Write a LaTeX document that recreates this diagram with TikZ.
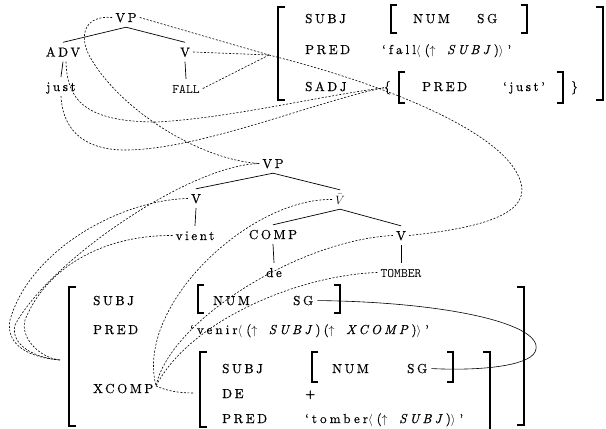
\documentclass[tikz,border=0pt]{standalone}
\usepackage{fontspec}
\setmainfont{lmroman10-regular.otf}[ItalicFont=lmroman10-italic.otf, BoldFont=lmroman10-bold.otf, LetterSpace=20, FakeBold=0.5]
\newfontfamily\valfont{lmroman10-regular.otf}[ItalicFont=lmroman10-italic.otf, LetterSpace=24, FakeBold=0.5]
\setmonofont{lmmono10-regular.otf}
% math glyphs inside a value, with room after them
\newcommand{\la}{$\langle$\kern4pt}
\newcommand{\ra}{$\rangle$\kern4pt}
\newcommand{\up}{$\uparrow$\kern4pt}
\begin{document}
\begin{tikzpicture}[x=1pt, y=-1pt,
  every node/.style={font=\fontsize{13}{15}\selectfont},
  tn/.style={anchor=base, inner xsep=3pt, inner ysep=5pt, text height=9pt, text depth=0pt},
  ft/.style={anchor=base west, inner sep=0pt},
  val/.style={ft, font=\fontsize{13}{15}\selectfont\valfont},
  treeline/.style={line width=0.7pt},
  corrline/.style={dash pattern=on 2pt off 1.6pt, line width=0.6pt},
  bigbrk/.style={line width=1.6pt},
  smallbrk/.style={line width=1.2pt},
  link/.style={line width=0.6pt}]
\useasboundingbox (0,0) rectangle (606,429);

% ---------- English c-structure ----------
\node[tn] (vpA) at (126,22) {VP};
\node[tn] (advA) at (63,56.5) {ADV};
\node[tn] (vA) at (185,56.5) {V};
\node[tn] (justA) at (61,91) {just};
\node[tn, font=\fontsize{13}{15}\selectfont\ttfamily] (fallA) at (186,93) {FALL};
\draw[treeline] (vpA.south) -- (advA.north);
\draw[treeline] (vpA.south) -- (vA.north);
\draw[treeline] (advA.south) -- (justA.north);
\draw[treeline] (vA.south) -- (fallA.north);

% ---------- English f-structure ----------
\draw[bigbrk] (285,7) -- (278,7) -- (278,100) -- (285,100);
\draw[bigbrk] (596,7) -- (603,7) -- (603,100) -- (596,100);
\node[ft] (subj1) at (305,23) {SUBJ};
\draw[smallbrk] (397,5) -- (391,5) -- (391,33) -- (397,33);
\node[ft] (num1) at (413,23) {NUM};
\node[ft] (sg1) at (477,23) {SG};
\draw[smallbrk] (521,5) -- (527,5) -- (527,33) -- (521,33);
\node[ft] (pred1) at (305,54) {PRED};
\node[val] (val1) at (382,54) {‘fall\la(\up\ \textit{SUBJ})\ra’};
\node[ft] (sadj1) at (305,91) {SADJ};
\node[ft] (brace) at (384,91) {\{};
\draw[smallbrk] (405,72) -- (399,72) -- (399,103) -- (405,103);
\node[ft] (pred2) at (422,91) {PRED};
\node[ft] (just2) at (503,91) {‘just’};
\draw[smallbrk] (557,72) -- (563,72) -- (563,103) -- (557,103);
\node[ft] (rbrace) at (571,91) {\}};

% ---------- French c-structure ----------
\node[tn] (vpB) at (273,168) {VP};
\node[tn] (vB) at (196,203) {V};
\node[tn] (vientB) at (195,240) {vient};
\node[tn] (vbar) at (340,204) {$\bar{V}$};
\node[tn] (comp) at (273,239) {COMP};
\node[tn] (deB) at (274,277) {de};
\node[tn] (vC) at (401,240) {V};
\node[tn, font=\fontsize{13}{15}\selectfont\ttfamily] (tomber) at (401,277) {TOMBER};
\draw[treeline] (vpB.south) -- (vB.north);
\draw[treeline] (vpB.south) -- (vbar.north);
\draw[treeline] (vB.south) -- (vientB.north);
\draw[treeline] (vbar.south) -- (comp.north);
\draw[treeline] (vbar.south) -- (vC.north);
\draw[treeline] (comp.south) -- (deB.north);
\draw[treeline] (vC.south) -- (tomber.north);

% ---------- French f-structure ----------
\draw[bigbrk] (76,287) -- (69,287) -- (69,426) -- (76,426);
\draw[bigbrk] (517,287) -- (524,287) -- (524,425) -- (517,425);
\node[ft] (subj2) at (93,305) {SUBJ};
\draw[smallbrk] (204,285) -- (198,285) -- (198,313) -- (204,313);
\node[ft] (num2) at (213,305) {NUM};
\node[ft] (sg2) at (293,305) {SG};
\draw[smallbrk] (334,285) -- (340,285) -- (340,313) -- (334,313);
\node[ft] (pred3) at (93,334) {PRED};
\node[val] (val3) at (190,334) {‘venir\la(\up\ \textit{SUBJ})(\up\ \textit{XCOMP})\ra’};
\node[ft] (xcomp) at (93,393) {XCOMP};
% embedded XCOMP value
\draw[bigbrk] (207,352) -- (200,352) -- (200,427) -- (207,427);
\draw[bigbrk] (483,352) -- (490,352) -- (490,429);
\node[ft] (subj3) at (222,373) {SUBJ};
\draw[smallbrk] (318,352) -- (312,352) -- (312,382) -- (318,382);
\node[ft] (num3) at (332,373) {NUM};
\node[ft] (sg3) at (407,373) {SG};
\draw[smallbrk] (447,352) -- (453,352) -- (453,382) -- (447,382);
\node[ft] (de3) at (222,398) {DE};
\node[ft] (plus) at (305,398) {+};
\node[ft] (pred4) at (222,423) {PRED};
\node[val] (val4) at (305,423) {‘tomber\la(\up\ \textit{SUBJ})\ra’};

% ---------- correspondence points ----------
\coordinate (ftop) at (269,55);
\coordinate (fout) at (60,360);
\coordinate (xc) at (156,386);
\coordinate (finner) at (194,393);

% ---------- correspondences, upper half ----------
\draw[corrline] (vpA.east) -- (ftop);
\draw[corrline] (vA.east) -- (ftop);
\draw[corrline] (fallA.east) -- (ftop);
\draw[corrline] (ftop) .. controls (400,88) and (520,140) .. (522,190)
  .. controls (522,220) and (460,230) .. (vC.east);
\draw[corrline] ([xshift=3pt]advA.south) .. controls (67,100) and (85,122) .. (157,122)
  .. controls (230,118) and (320,96) .. (brace.west);
\draw[corrline] (justA.south) .. controls (63,135) and (90,150) .. (125,150)
  .. controls (200,150) and (320,100) .. (brace.west);
\draw[corrline] (vpA.west) .. controls (85,15) and (78,35) .. (90,57)
  .. controls (120,110) and (200,160) .. (vpB.west);

% ---------- correspondences, lower half ----------
\draw[corrline] (vpB.west) .. controls (190,165) and (50,260) .. (15,325)
  .. controls (10,345) and (35,358) .. (fout);
\draw[corrline] (vB.west) .. controls (120,200) and (30,250) .. (10,320)
  .. controls (5,345) and (30,358) .. (fout);
\draw[corrline] (vientB.west) .. controls (100,235) and (45,270) .. (25,320)
  .. controls (20,338) and (40,358) .. (fout);
\draw[corrline] (vbar.west) .. controls (250,198) and (135,305) .. (xc);
\draw[corrline] (vC.west) .. controls (300,240) and (170,320) .. (xc);
\draw[corrline] (tomber.west) .. controls (300,275) and (190,320) .. (xc);
\draw[corrline] (xc) .. controls (168,391) and (178,393) .. (finner);

% shared subject
\draw[link] ([xshift=4pt]sg2.east) .. controls (450,302) and (548,325) .. (535,352)
  .. controls (528,366) and (480,371) .. ([xshift=4pt]sg3.east);
\end{tikzpicture}
\end{document}
